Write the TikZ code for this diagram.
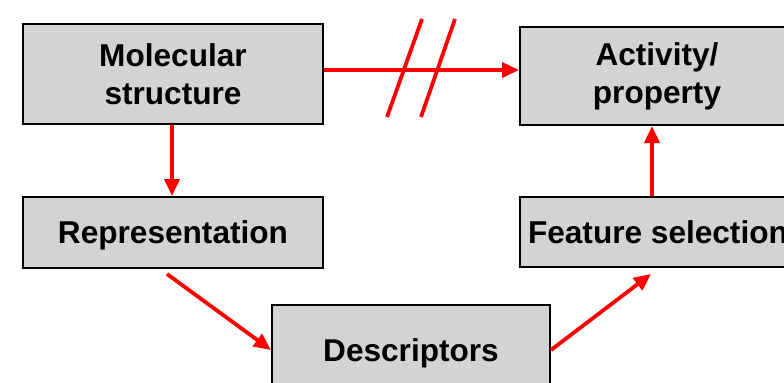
\documentclass[tikz,border=0pt]{standalone}
\usepackage{fontspec}
\setmainfont{Liberation Sans}
\usetikzlibrary{arrows.meta}
\begin{document}
\begin{tikzpicture}[x=0.5pt,y=-0.5pt,
  box/.style={draw=black,line width=1pt,fill=boxgray,inner sep=0pt,align=center,
    font=\fontsize{15.8}{19}\selectfont\bfseries},
  onebox/.style={box,text depth=0pt},
  link/.style={draw=red,line width=1.9pt,-{Triangle[length=8.5pt,width=7.5pt]}},
  slash/.style={draw=red,line width=1.9pt}]
\definecolor{boxgray}{HTML}{D3D3D3}
\useasboundingbox (0,0) rectangle (784,382);
\clip (0,0) rectangle (784,382);
\node[box,minimum width=150pt,minimum height=50pt] (mol) at (173,74) {Molecular\\structure};
\node[box,minimum width=137pt,minimum height=49pt] (act) at (657,76) {Activity/\\property};
\node[onebox,minimum width=150pt,minimum height=35.5pt] (rep) at (173,232.5) {Representation};
\node[onebox,minimum width=138pt,minimum height=35pt] (feat) at (658,232) {Feature selection};
\node[onebox,minimum width=139pt,minimum height=45pt] (desc) at (411,350) {Descriptors};
\draw[link] ([yshift=2pt]mol.east) -- ([yshift=2pt]mol.east -| act.west);
\draw[slash] (387,117) -- (422,19);
\draw[slash] (421,117) -- (455,19);
\draw[link] ([xshift=-0.5pt]mol.south) -- ([xshift=-0.5pt]mol.south |- rep.north);
\draw[link] ([shift={(-6,5)}]rep.south) -- (desc.west);
\draw[link] (desc.east) -- ([shift={(-7,6)}]feat.south);
\draw[link] ([xshift=-3pt]feat.north) -- ([xshift=-3pt]feat.north |- act.south);
\end{tikzpicture}
\end{document}
